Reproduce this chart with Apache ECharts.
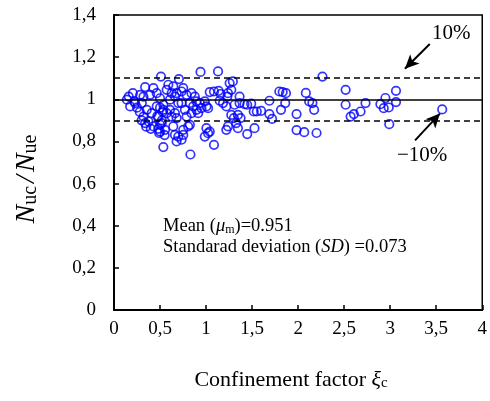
<!DOCTYPE html>
<html>
<head>
<meta charset="utf-8">
<script src="https://cdn.jsdelivr.net/npm/echarts@6/dist/echarts.min.js"></script>
<style>
    html, body { margin: 0; padding: 0; background: #fff; }
    #main { width: 490px; height: 401px; }
</style>
</head>
<body>
<div id="main"></div>
<script>
// confinement factor (x) and Nuc/Nue (y)
var xi = [
    0.16, 0.205, 0.14, 0.176, 0.23, 0.284, 0.32, 0.392, 0.302, 0.356, 0.32, 0.374, 0.428, 0.338, 0.41,
    0.482, 0.536, 0.518, 0.554, 0.5, 0.464, 0.536, 0.572, 0.608, 0.572, 0.59, 0.644, 0.626, 0.68, 0.734,
    0.752, 0.788, 0.842, 0.878, 0.896, 0.86, 0.824, 0.77, 0.734, 0.698, 0.662, 0.68, 0.644, 0.662, 0.68,
    0.734, 0.752, 0.824, 0.914, 0.95, 0.896, 0.932, 0.986, 0.5, 0.464, 0.428, 0.662, 0.608, 0.626, 0.788,
    0.842, 0.51, 0.94, 0.705, 0.536, 0.83, 0.338, 0.48, 0.5, 0.52, 0.47, 0.53, 0.5, 0.49, 0.55,
    0.25, 0.28, 0.22, 0.3, 0.35, 0.4, 0.698, 0.752, 0.806, 0.986,
    1.13, 1.256, 1.291, 1.04, 1.086, 1.137, 1.159, 1.238, 1.231, 1.004, 1.022, 1.148, 1.184, 1.22, 1.31,
    1.364, 1.418, 1.447, 1.518, 1.274, 1.302, 1.346, 1.375, 1.328, 1.238, 1.22, 1.346, 1.447, 1.004, 1.04,
    1.022, 1.086, 1.364, 1.49, 1.274,
    1.796, 1.832, 1.868, 2.084, 1.688, 1.86, 1.551, 1.598, 1.688, 1.717, 1.814, 1.983, 1.526, 1.983, 2.066,
    2.264, 2.12, 2.155, 2.174, 2.516, 2.516, 2.57, 2.606, 2.678, 2.2,
    2.732, 2.948, 3.063, 3.063, 2.894, 2.93, 2.984, 2.99, 3.565
];
var ratio = [
    1.013, 1.029, 0.998, 0.966, 0.982, 1.021, 1.013, 1.021, 0.982, 0.95, 0.918, 0.895, 0.871, 0.887, 0.934,
    0.918, 0.95, 0.887, 0.855, 0.847, 0.966, 0.974, 0.934, 0.998, 1.045, 1.069, 1.061, 1.029, 1.029, 1.037,
    1.053, 1.021, 1.029, 1.013, 0.99, 0.966, 0.982, 0.95, 0.982, 0.982, 0.934, 0.911, 0.871, 0.831, 0.8,
    0.808, 0.855, 0.879, 0.934, 0.958, 0.95, 0.982, 0.99, 1.005, 1.029, 1.053, 1.013, 0.95, 0.918, 0.918,
    0.934, 1.108, 1.13, 1.096, 0.773, 0.738, 1.058, 0.86, 0.88, 0.9, 0.92, 0.94, 0.96, 0.84, 0.83,
    0.96, 0.94, 0.99, 0.9, 0.87, 0.86, 0.823, 0.831, 0.871, 0.823,
    1.132, 1.077, 1.085, 1.034, 1.037, 1.04, 1.025, 1.029, 1.013, 0.966, 0.958, 0.993, 0.982, 0.966, 0.974,
    0.982, 0.977, 0.974, 0.942, 0.926, 0.911, 0.926, 0.911, 0.887, 0.871, 0.855, 0.863, 0.835, 0.863, 0.847,
    0.839, 0.784, 1.013, 0.979, 1.045,
    1.037, 1.034, 1.029, 1.03, 0.993, 0.982, 0.942, 0.945, 0.93, 0.907, 0.95, 0.93, 0.863, 0.854, 0.844,
    1.108, 0.99, 0.982, 0.95, 1.045, 0.974, 0.918, 0.93, 0.942, 0.84,
    0.982, 1.006, 1.04, 0.987, 0.977, 0.958, 0.961, 0.882, 0.952
];
var refLines = [1.1, 1.0, 0.9];
var xTickLabels = ['0', '0,5', '1', '1,5', '2', '2,5', '3', '3,5', '4'];
var yTickLabels = ['0', '0,2', '0,4', '0,6', '0,8', '1', '1,2', '1,4'];
var meanText = '0.951';
var sdText = '0.073';

(function () {
    var myChart = echarts.init(document.getElementById('main'));
    var serif = "'Liberation Serif', 'Times New Roman', serif";

    var points = xi.map(function (x, i) { return [x, ratio[i]]; });

    // horizontal reference lines + the two arrows
    var lines = refLines.map(function (v) {
        return {
            yAxis: v,
            lineStyle: { color: '#000', width: 1.5, type: v === 1 ? 'solid' : [6, 4] }
        };
    });
    lines.push([
        { coord: [3.43, 1.262], symbol: 'none' },
        { coord: [3.16, 1.145], symbol: 'arrow', symbolSize: [10, 14], lineStyle: { width: 2 } }
    ]);
    lines.push([
        { coord: [3.27, 0.805], symbol: 'none' },
        { coord: [3.54, 0.932], symbol: 'arrow', symbolSize: [10, 14], lineStyle: { width: 2 } }
    ]);
    lines[3][0].lineStyle = { width: 2, type: 'solid' };
    lines[4][0].lineStyle = { width: 2, type: 'solid' };

    var subRich = {
        i: { fontFamily: serif, fontStyle: 'italic', fontSize: 18.5, color: '#000' },
        sub: { fontFamily: serif, fontSize: 12, color: '#000', verticalAlign: 'bottom' }
    };

    var option = {
        backgroundColor: '#fff',
        animation: false,
        grid: {
            left: 114,
            right: 6,
            top: 15,
            bottom: 91,
            show: true,
            borderColor: '#000',
            borderWidth: 1.5
        },
        xAxis: {
            type: 'value',
            min: 0,
            max: 4,
            interval: 0.5,
            axisLine: { lineStyle: { color: '#000', width: 2 } },
            axisTick: { inside: true, length: 5, lineStyle: { color: '#000', width: 1.5 } },
            axisLabel: {
                margin: 10,
                color: '#000',
                fontFamily: serif,
                fontSize: 19,
                formatter: function (v) { return xTickLabels[Math.round(v / 0.5)]; }
            },
            splitLine: { show: false }
        },
        yAxis: {
            type: 'value',
            min: 0,
            max: 1.4,
            interval: 0.2,
            axisLine: { lineStyle: { color: '#000', width: 2 } },
            axisTick: { inside: true, length: 5, lineStyle: { color: '#000', width: 1.5 } },
            axisLabel: {
                margin: 18,
                color: '#000',
                fontFamily: serif,
                fontSize: 19,
                formatter: function (v) { return yTickLabels[Math.round(v / 0.2)]; }
            },
            splitLine: { show: false }
        },
        series: [
            {
                type: 'scatter',
                data: points,
                symbol: 'circle',
                symbolSize: 8.5,
                itemStyle: { color: 'rgba(255,255,255,0)', borderColor: '#0000ff', borderWidth: 1.7 },
                markLine: {
                    silent: true,
                    symbol: ['none', 'none'],
                    label: { show: false },
                    lineStyle: { color: '#000', width: 1.5, type: 'solid' },
                    data: lines
                },
                z: 3
            }
        ],
        graphic: [
            {
                type: 'text', x: 27, y: 179, rotation: Math.PI / 2,
                style: {
                    text: '{n|N}{s|uc}{sl|/}{n|N}{s|ue}',
                    align: 'center', verticalAlign: 'middle',
                    rich: {
                        n: { fontFamily: serif, fontStyle: 'italic', fontSize: 28, color: '#000' },
                        sl: { fontFamily: serif, fontStyle: 'italic', fontSize: 28, color: '#000', padding: [0, 3, 0, 3] },
                        s: { fontFamily: serif, fontSize: 20, color: '#000', verticalAlign: 'bottom' }
                    }
                }
            },
            {
                type: 'text', x: 291, y: 380,
                style: {
                    text: '{t|Confinement factor }{g|ξ}{s|c}',
                    align: 'center', verticalAlign: 'middle',
                    rich: {
                        t: { fontFamily: serif, fontSize: 22, color: '#000' },
                        g: { fontFamily: serif, fontStyle: 'italic', fontSize: 22, color: '#000' },
                        s: { fontFamily: serif, fontSize: 15, color: '#000', verticalAlign: 'bottom' }
                    }
                }
            },
            {
                type: 'text', x: 163, y: 226,
                style: {
                    text: '{t|Mean (}{i|μ}{sub|m}{t|)=' + meanText + '}',
                    verticalAlign: 'middle',
                    rich: Object.assign({ t: { fontFamily: serif, fontSize: 18.5, color: '#000' } }, subRich)
                }
            },
            {
                type: 'text', x: 163, y: 247,
                style: {
                    text: '{t|Standarad deviation (}{i|SD}{t|) =' + sdText + '}',
                    verticalAlign: 'middle',
                    rich: Object.assign({ t: { fontFamily: serif, fontSize: 18.5, color: '#000' } }, subRich)
                }
            },
            {
                type: 'text', x: 432, y: 33,
                style: { text: '10%', fontFamily: serif, fontSize: 21, fill: '#000', verticalAlign: 'middle' }
            },
            {
                type: 'text', x: 397, y: 155,
                style: { text: '\u221210%', fontFamily: serif, fontSize: 21, fill: '#000', verticalAlign: 'middle' }
            }
        ]
    };

    myChart.setOption(option);

    window.addEventListener('resize', function () {
        myChart.resize();
    });
})();
</script>
</body>
</html>
